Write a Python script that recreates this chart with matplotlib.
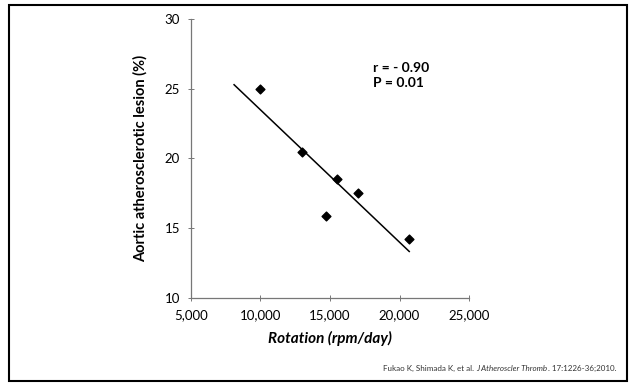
import numpy as np
import matplotlib
matplotlib.use("Agg")
import matplotlib.pyplot as plt
from matplotlib.ticker import FuncFormatter

rotation = [10000, 13000, 14700, 15500, 17000, 20700]
lesion = [25.0, 20.5, 15.9, 18.5, 17.5, 14.2]
fit_range = [8100, 20700]
x_ticks = [5000, 10000, 15000, 20000, 25000]
y_ticks = [10, 15, 20, 25, 30]

plt.rcParams['font.family'] = ['Lato', 'DejaVu Sans']

fig = plt.figure(figsize=(6.32, 3.85), dpi=100)
ax = fig.add_axes([0.3022, 0.226, 0.4399, 0.7247])

ax.scatter(rotation, lesion, marker='D', s=20, color='black', zorder=3)
slope, intercept = np.polyfit(rotation, lesion, 1)
fx = np.array(fit_range, dtype=float)
ax.plot(fx, slope * fx + intercept, color='black', lw=1.1)

ax.set_xlim(5000, 25000)
ax.set_ylim(10, 30)
ax.set_xticks(x_ticks)
ax.set_yticks(y_ticks)
ax.xaxis.set_major_formatter(FuncFormatter(lambda v, p: f"{int(v):,}"))
for s in ['top', 'right']:
    ax.spines[s].set_visible(False)
for s in ['left', 'bottom']:
    ax.spines[s].set_color('#777777')
    ax.spines[s].set_linewidth(0.9)
ax.tick_params(direction='inout', length=4, width=0.7, color='#777777',
               labelsize=9.5, pad=6)

ax.set_xlabel('Rotation (rpm/day)', fontsize=11, fontweight='bold', style='italic', labelpad=7)
ax.set_ylabel('Aortic atherosclerotic lesion (%)', fontsize=10.5, fontweight='bold', labelpad=12)

ax.text(0.655, 0.845, 'r = - 0.90\nP = 0.01', transform=ax.transAxes,
        fontsize=10, fontweight='bold', va='top', ha='left', linespacing=1.3)

# citation
fig.canvas.draw()
r = fig.canvas.get_renderer()
parts = [("Fukao K, Shimada K, et al. ", 'normal'),
         ("J Atheroscler Thromb", 'italic'),
         (". 17:1226-36;2010.", 'normal')]
widths = []
for txt, st in parts:
    t = fig.text(0, 0, txt, fontsize=5.8, style=st, color='#333333')
    widths.append(t.get_window_extent(r).width)
    t.remove()
x_end = 616
x = x_end - sum(widths)
for (txt, st), w in zip(parts, widths):
    fig.text(x / 632, 1 - 371 / 385, txt, fontsize=5.8, style=st, color='#333333', va='baseline')
    x += w

# outer frame
fig.add_artist(plt.Rectangle((9 / 632, 1 - 381 / 385), (627 - 9) / 632, (381 - 5) / 385,
                             transform=fig.transFigure, fill=False, edgecolor='black', lw=1.5))

fig.savefig('out.png', dpi=100)
